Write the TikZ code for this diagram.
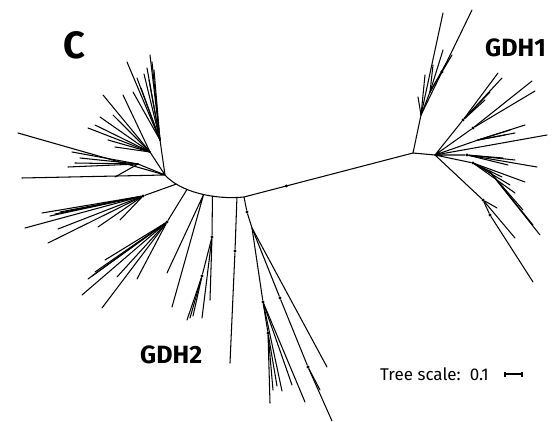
\documentclass[tikz,border=0pt]{standalone}
\usepackage{fontspec}
\setmainfont{Fira Sans}
\usetikzlibrary{calc}
\begin{document}
\begin{tikzpicture}[x=1pt, y=-1pt,
		branch/.style={line width=1.05pt, line cap=round},
		bdot/.style={circle, fill=black, inner sep=0pt, minimum size=3.4pt},
		clade/.style={font=\bfseries\fontsize{25}{25}\selectfont, inner sep=0pt, anchor=base west}
	]
	\useasboundingbox (0,0) rectangle (552,422);
	% backbone
	\coordinate (hubL) at (165,175);
	\coordinate (bbF) at (244,197);
	\coordinate (hubR) at (413,153);
	\coordinate (hubRR) at (435,155);
	\draw[branch] (hubL) .. controls (180,192) and (215,200) ..
		coordinate[pos=0.2] (bbA) coordinate[pos=0.35] (bbB)
		coordinate[pos=0.55] (bbC) coordinate[pos=0.65] (bbD)
		coordinate[pos=0.92] (bbE) (bbF)
		-- coordinate[pos=0.25] (bbMid) (hubR) -- (hubRR);
	\node[bdot] at (bbMid) {};
	% upper left fan
	\coordinate (ulA) at (160,140);
	\coordinate (ulB) at (150,152);
	\coordinate (ulC) at (138,164);
	\draw[branch] (hubL) -- (ulA) (hubL) -- (ulB) (hubL) -- (ulC);
	\foreach \x/\y [count=\i] in {150/55,152/62,147/68,144/74,137/78,127/62,133/92,141/88,149/80,154/70}
		{\coordinate (ula\i) at (\x,\y); \draw[branch] (ulA) -- (ula\i);}
	\foreach \x/\y [count=\i] in {123/95,103/95,113/115,100/117,95/125,88/128,115/147,108/140,118/120}
		{\coordinate (ulb\i) at (\x,\y); \draw[branch] (ulB) -- (ulb\i);}
	\foreach \x/\y [count=\i] in {72/152,68/167,115/177,80/158,75/163}
		{\coordinate (ulc\i) at (\x,\y); \draw[branch] (ulC) -- (ulc\i);}
	\coordinate (ulx1) at (18,133);
	\coordinate (ulx2) at (22,178);
	\draw[branch] (hubL) -- (ulx1) (hubL) -- (ulx2);
	% lower left fan
	\node[bdot] (llA) at (143,196) {};
	\draw[branch] (bbA) -- (llA);
	\foreach \x/\y [count=\i] in {42/213,25/228,58/229,50/216,60/212,98/227,120/220,48/243,55/214}
		{\coordinate (lla\i) at (\x,\y); \draw[branch] (llA) -- (lla\i);}
	\node[bdot] (llB) at (167,222) {};
	\draw[branch] (bbB) -- (llB);
	\foreach \x/\y [count=\i] in {88/279,82/295,102/308,117/277,105/260,137/279,95/272,92/276}
		{\coordinate (llb\i) at (\x,\y); \draw[branch] (llB) -- (llb\i);}
	\coordinate (llc1) at (167,273);
	\coordinate (llc2) at (172,307);
	\draw[branch] (bbC) -- (llc1) (bbC) -- (llc2);
	\node[bdot] (llD) at (212,237) {};
	\node[bdot] (llDD) at (202,276) {};
	\draw[branch] (bbD) -- (llD) -- (llDD);
	\foreach \x/\y [count=\i] in {187/320,190/318,193/316}
		{\coordinate (lldd\i) at (\x,\y); \draw[branch] (llDD) -- (lldd\i);}
	\foreach \x/\y [count=\i] in {202/318,210/300}
		{\coordinate (lld\i) at (\x,\y); \draw[branch] (llD) -- (lld\i);}
	\node[bdot] (llE) at (235,251) {};
	\coordinate (lle1) at (230,363);
	\draw[branch] (bbE) -- (llE) -- (lle1);
	% bottom clade
	\node[bdot] (llF) at (247,212) {};
	\coordinate (llG) at (252,228);
	\node[bdot] (llH) at (263,302) {};
	\node[bdot] (llHH) at (268,333) {};
	\node[bdot] (llK) at (280,298) {};
	\node[bdot] (llKK) at (308,367) {};
	\draw[branch] (bbF) -- (llF) -- (llG) -- (llH) -- (llHH);
	\draw[branch] (llG) -- (llK) -- (llKK);
	\coordinate (llg1) at (327,367);
	\draw[branch] (llG) -- (llg1);
	\foreach \x/\y [count=\i] in {270/403,273/390,277/386}
		{\coordinate (llhh\i) at (\x,\y); \draw[branch] (llHH) -- (llhh\i);}
	\foreach \x/\y [count=\i] in {282/391,292/385,305/402}
		{\coordinate (llh\i) at (\x,\y); \draw[branch] (llH) -- (llh\i);}
	\foreach \x/\y [count=\i] in {332/421,320/390}
		{\coordinate (llkk\i) at (\x,\y); \draw[branch] (llKK) -- (llkk\i);}
	% right top clade
	\coordinate (rtA) at (421,115);
	\coordinate (rtB) at (430,92);
	\draw[branch] (hubR) -- (rtA) -- (rtB);
	\foreach \x/\y [count=\i] in {443/13,472/10,418/97,425/75}
		{\coordinate (rta\i) at (\x,\y); \draw[branch] (rtA) -- (rta\i);}
	\foreach \x/\y [count=\i] in {433/65,443/50,448/60,452/55}
		{\coordinate (rtb\i) at (\x,\y); \draw[branch] (rtB) -- (rtb\i);}
	\node[bdot] at ($(rtA)!0.41!(rta2)$) {};
	% right fan
	\node[bdot] (rbA) at (463,120) {};
	\node[bdot] (rbB) at (473,128) {};
	\coordinate (rbC) at (478,140);
	\node[bdot] (rbD) at (467,155) {};
	\node[bdot] (rbE) at (473,163) {};
	\node[bdot] (rbF) at (490,172) {};
	\node[bdot] (rbG) at (483,200) {};
	\node[bdot] (rbGG) at (490,215) {};
	\draw[branch] (hubRR) -- (rbA) (hubRR) -- (rbB) (hubRR) -- (rbC)
		(hubRR) -- (rbD) (hubRR) -- (rbE) -- (rbF) (hubRR) -- (rbG) -- (rbGG);
	\foreach \x/\y [count=\i] in {498/73,502/78,490/92,485/100}
		{\coordinate (rba\i) at (\x,\y); \draw[branch] (rbA) -- (rba\i);}
	\foreach \x/\y [count=\i] in {532/81,535/91}
		{\coordinate (rbb\i) at (\x,\y); \draw[branch] (rbB) -- (rbb\i);}
	\foreach \x/\y [count=\i] in {525/125,510/130,515/133,505/135}
		{\coordinate (rbc\i) at (\x,\y); \draw[branch] (rbC) -- (rbc\i);}
	\coordinate (rbx1) at (547,135);
	\draw[branch] (hubRR) -- (rbx1);
	\foreach \x/\y [count=\i] in {503/158,537/167,515/160,508/165}
		{\coordinate (rbd\i) at (\x,\y); \draw[branch] (rbD) -- (rbd\i);}
	\foreach \x/\y [count=\i] in {525/182,515/193,502/177,510/185}
		{\coordinate (rbe\i) at (\x,\y); \draw[branch] (rbE) -- (rbe\i);}
	\foreach \x/\y [count=\i] in {523/210,540/235,533/225}
		{\coordinate (rbf\i) at (\x,\y); \draw[branch] (rbF) -- (rbf\i);}
	\foreach \x/\y [count=\i] in {515/238,497/208}
		{\coordinate (rbg\i) at (\x,\y); \draw[branch] (rbG) -- (rbg\i);}
	\coordinate (rbgg1) at (533,282);
	\draw[branch] (rbGG) -- (rbgg1);
	% labels
	\node[font=\bfseries\fontsize{38}{38}\selectfont, inner sep=0pt, anchor=base west] (panel) at (63,59) {C};
	\node[clade] (gdh1) at (485,57) {GDH1};
	\node[clade] (gdh2) at (140,363) {GDH2};
	\node[font=\fontsize{17}{17}\selectfont, inner sep=0pt, anchor=base west] (scale) at (380,381) {Tree scale:\ \ 0.1};
	\coordinate (barL) at (505,374);
	\coordinate (barR) at (522,374);
	\draw[branch, line cap=butt] (barL) -- (barR);
	\draw[branch, line cap=butt] ([yshift=-2.5pt]barL) -- ([yshift=2.5pt]barL)
		([yshift=-2.5pt]barR) -- ([yshift=2.5pt]barR);
\end{tikzpicture}
\end{document}
